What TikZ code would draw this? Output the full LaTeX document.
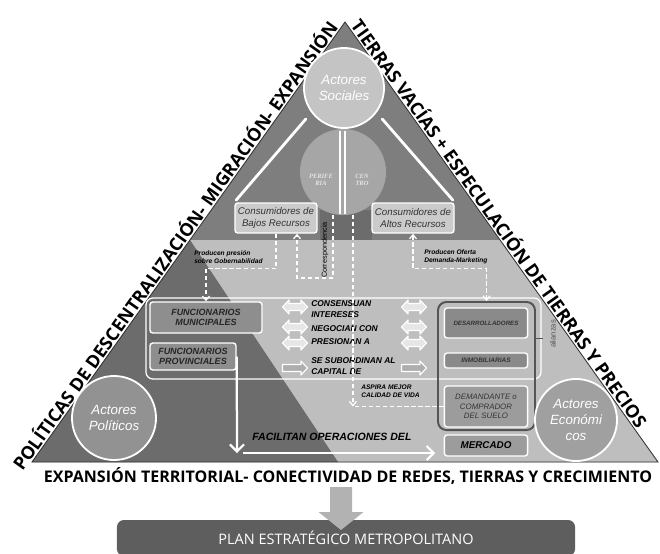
\documentclass[tikz,border=0pt]{standalone}
\usepackage{fontspec}
\setmainfont{Liberation Sans}
\newfontfamily\osans{Open Sans}
\newfontfamily\tserif{Liberation Serif}
\usetikzlibrary{positioning,arrows.meta,calc}

\definecolor{bgdark}{HTML}{7E7E7E}
\definecolor{bgdeep}{HTML}{6C6C6C}
\definecolor{bglight}{HTML}{BEBEBE}
\definecolor{socfill}{HTML}{C4C4C4}
\definecolor{ciudfill}{HTML}{A6A6A6}
\definecolor{consfill}{HTML}{CBCBCB}
\definecolor{offfill}{HTML}{8E8E8E}
\definecolor{desfill}{HTML}{8A8A8A}
\definecolor{demfill}{HTML}{9C9C9C}
\definecolor{polfill}{HTML}{929292}
\definecolor{ecofill}{HTML}{A0A0A0}
\definecolor{dblfill}{HTML}{E6E6E6}
\definecolor{sglfill}{HTML}{AEAEAE}
\definecolor{downgray}{HTML}{B2B2B2}
\definecolor{bannergray}{HTML}{5E5E5E}
\definecolor{grpline}{HTML}{555555}
\definecolor{txtgray}{HTML}{333333}

\tikzset{
  actor/.style={circle, draw=white, line width=1.3pt, fill=#1, text=white, align=center, inner sep=0pt,
    font=\fontsize{9.5}{11.5}\selectfont\itshape},
  consbox/.style={draw=white, line width=1pt, rounded corners=2pt, fill=consfill, text=txtgray, align=center,
    inner sep=0pt, minimum width=2.05cm, minimum height=0.75cm, font=\fontsize{6.9}{8.2}\selectfont\itshape},
  offbox/.style={draw=white, line width=1pt, rounded corners=2pt, fill=offfill, text=black!85, align=center,
    inner sep=0pt, font=\fontsize{6.4}{7.6}\selectfont\bfseries\itshape},
  mktbox/.style={draw=white, line width=1pt, rounded corners=2pt, fill=#1, text=txtgray, align=center,
    inner sep=0pt, minimum width=2.08cm},
  wline/.style={white, line width=2pt, line cap=round},
  warrow/.style={white, line width=1.6pt, -{Straight Barb[length=5pt,width=10pt]}},
  flow/.style={white, line width=0.9pt, dash pattern=on 3pt off 2pt, -{Straight Barb[length=3pt,width=5pt]}},
  flowline/.style={white, line width=0.9pt, dash pattern=on 3pt off 2pt},
  note/.style={font=\fontsize{4.7}{5.7}\selectfont\bfseries\itshape, align=left, inner sep=0pt, anchor=west},
  verb/.style={font=\fontsize{6}{7.6}\selectfont\bfseries\itshape, align=left, inner sep=0pt, anchor=west},
  dblarrow/.pic={
    \draw[white, line width=0.8pt, fill=dblfill, line join=round]
      (-12.5,0) -- (-6,-7) -- (-6,-3.5) -- (6,-3.5) -- (6,-7) -- (12.5,0)
      -- (6,7) -- (6,3.5) -- (-6,3.5) -- (-6,7) -- cycle;
  },
  sglarrow/.pic={
    \draw[white, line width=0.8pt, fill=sglfill, line join=round]
      (-12.5,-3.5) -- (6,-3.5) -- (6,-7) -- (12.5,0) -- (6,7) -- (6,3.5) -- (-12.5,3.5) -- cycle;
  },
  sidetext/.style={font=\fontsize{12.8}{14}\osans\bfseries, inner sep=0pt},
  basetext/.style={font=\fontsize{11.4}{13}\osans\bfseries, inner sep=0pt}
}

\begin{document}
\begin{tikzpicture}[x=0.025cm, y=-0.025cm]
  \useasboundingbox (0,0) rectangle (660,554);

  \coordinate (apex) at (345,22);
  \coordinate (bl) at (32,462);
  \coordinate (br) at (658,462);

  \fill[bgdark] (apex) -- (br) -- (bl) -- cycle;
  \fill[bglight] (190,240) -- (500,240) -- (br) -- (338,462) -- cycle;
  \fill[bgdeep] (190,240) -- (338,462) -- (bl) -- cycle;
  \fill[bgdeep] (320,210) rectangle (372,240);
  \draw[black!80, line width=0.6pt] (apex) -- (br) -- (bl) -- cycle;

  \path (bl) -- (apex) node[sidetext, pos=0.48, sloped, above=1pt] (polTxt)
    {POLÍTICAS DE DESCENTRALIZACIÓN- MIGRACIÓN- EXPANSIÓN};
  \path (apex) -- (br) node[sidetext, pos=0.47, sloped, above=1pt] (tieTxt)
    {TIERRAS VACÍAS + ESPECULACIÓN DE TIERRAS Y PRECIOS};
  \node[basetext] (expTxt) at (348,476)
    {EXPANSIÓN TERRITORIAL- CONECTIVIDAD DE REDES, TIERRAS Y CRECIMIENTO};

  \node[actor=ciudfill, draw=none, minimum size=2.15cm] (ciudad) at (343,172) {};
  \draw[white, line width=0.9pt] (340,131) -- (340,214);
  \draw[white, line width=0.9pt] (345,131) -- (345,214);
  \node[text=white!90!black, align=center, inner sep=0pt, font=\fontsize{4.6}{5.4}\tserif\bfseries\itshape]
    (perif) at (321,180) {PERIFE\\RIA};
  \node[text=white!90!black, align=center, inner sep=0pt, font=\fontsize{4.6}{5.4}\tserif\bfseries\itshape]
    (centro) at (362,180) {CEN\\TRO};
  \node[actor=socfill, minimum size=2cm] (socAct) at (344,88) {Actores\\Sociales};

  \node[consbox] (bajos) at (276,218) {Consumidores de\\Bajos Recursos};
  \node[consbox] (altos) at (413,218) {Consumidores de\\Altos Recursos};

  \draw[wline, shorten <=6pt, shorten >=2pt] (socAct.217) -- (bajos.north west);
  \draw[wline, shorten <=6pt, shorten >=2pt] (socAct.323) -- (altos.north east);

  \node[draw=white, line width=0.9pt, rounded corners=5pt, minimum width=9.875cm, minimum height=2.025cm]
    (mesa) at (343.5,338.5) {};

  \node[offbox, minimum width=2.8cm, minimum height=0.775cm] (muni) at (206,317.5) {FUNCIONARIOS\\MUNICIPALES};
  \node[offbox, minimum width=2.15cm, minimum height=0.675cm] (prov) at (193,356.5) {FUNCIONARIOS\\PROVINCIALES};

  \node[draw=grpline, line width=1.4pt, rounded corners=6pt, minimum width=2.425cm, minimum height=3.2cm]
    (grp) at (486.5,366) {};
  \node[mktbox=desfill, minimum height=0.75cm, font=\fontsize{4.4}{5}\selectfont\bfseries\itshape]
    (des) at (486,323) {DESARROLLADORES};
  \node[mktbox=desfill, minimum height=0.375cm, font=\fontsize{4.6}{5}\selectfont\bfseries\itshape]
    (inm) at (486,360.5) {INMOBILIARIAS};
  \node[mktbox=demfill, minimum height=1.025cm, font=\fontsize{5.6}{6.6}\selectfont\itshape]
    (dem) at (486,406.5) {DEMANDANTE o\\COMPRADOR\\DEL SUELO};
  \node[mktbox=demfill, minimum height=0.525cm, text=black, font=\fontsize{7}{8}\selectfont\bfseries\itshape]
    (merc) at (486,445.5) {MERCADO};
  \draw[grpline, line width=0.8pt] (grp.east |- des.south) -- ++(7,0);
  \node[rotate=90, text=grpline, inner sep=0pt, font=\fontsize{5.4}{6}\selectfont] (ali) at (553,334) {alianzas};

  \node[actor=polfill, minimum size=2.1cm] (polAct) at (114,418) {Actores\\Políticos};
  \node[actor=ecofill, minimum size=2.05cm] (ecoAct) at (576,420) {Actores\\Económi\\cos};

  \pic at (295,307) {dblarrow};
  \pic at (295,327) {dblarrow};
  \pic at (295,343) {dblarrow};
  \pic at (295,368) {sglarrow};
  \pic at (414,307) {dblarrow};
  \pic at (414,327) {dblarrow};
  \pic at (414,343) {dblarrow};
  \pic at (414,368) {sglarrow};

  \node[verb] (v1) at (311,309) {CONSENSUAN\\INTERESES};
  \node[verb] (v2) at (311,329) {NEGOCIAN CON};
  \node[verb] (v3) at (311,342) {PRESIONAN A};
  \node[verb] (v4) at (311,366) {SE SUBORDINAN AL\\CAPITAL DE};

  \draw[flow] (bajos.south) -- ++(0,35) -| (muni.north);
  \node[note] (presLbl) at (194,257) {Producen presión\\sobre Gobernabilidad};

  \coordinate (corr) at (297,278);
  \draw[flow] (ciudad.257) |- (corr) -- (corr |- bajos.south);
  \node[rotate=90, inner sep=0pt, font=\fontsize{5.2}{6}\selectfont] (corrLbl) at (325,250) {Correspondencia};

  \draw[flow] (ciudad.283) -- (ciudad.283 |- dem.west);
  \draw[flowline] (dem.west) -- (ciudad.283 |- dem.west);
  \node[note] (aspLbl) at (361,391) {ASPIRA MEJOR\\CALIDAD DE VIDA};

  \draw[flow, {Straight Barb[length=3pt,width=5pt]}-{Straight Barb[length=3pt,width=5pt]}]
    (altos.south) -- ++(0,35) -| (grp.north);
  \node[note] (ofeLbl) at (424,257) {Producen Oferta\\Demanda-Marketing};

  \coordinate (fac) at (237,453);
  \draw[warrow] (prov.east) -- (fac);
  \draw[warrow, shorten >=6pt] ([xshift=4pt]fac) -- (fac -| merc.west);
  \node[verb, font=\fontsize{7.5}{9}\selectfont\bfseries\itshape] (facLbl) at (252,437) {FACILITAN OPERACIONES DEL};

  \node[fill=bannergray, rounded corners=5pt, minimum width=11.45cm, minimum height=0.9cm, text=white,
    font=\fontsize{10.3}{12}\osans] (plan) at (346,538) {PLAN ESTRATÉGICO METROPOLITANO};
  \fill[downgray] (330,487) -- (352,487) -- (352,512) -- (363.5,512) -- (341,530)
    -- (318.5,512) -- (330,512) -- cycle;
\end{tikzpicture}
\end{document}
